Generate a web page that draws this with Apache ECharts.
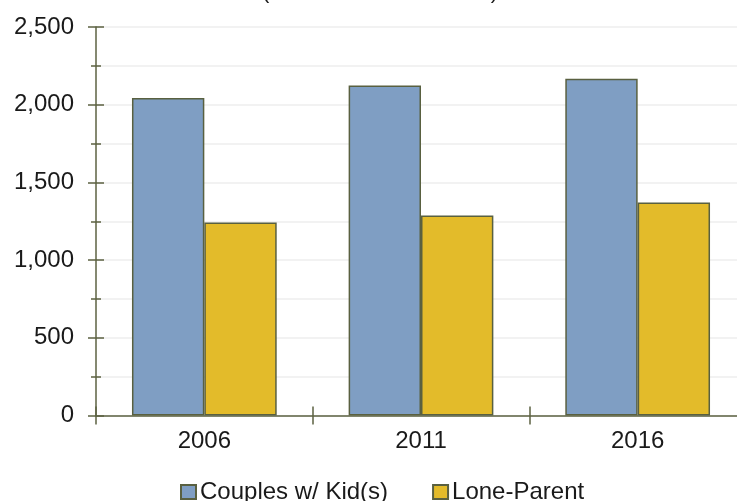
<!DOCTYPE html>
<html>
<head>
<meta charset="utf-8">
<script src="https://cdn.jsdelivr.net/npm/echarts@6/dist/echarts.min.js"></script>
<style>
  html, body { margin: 0; padding: 0; background: #ffffff; overflow: hidden; }
  #chart { width: 746px; height: 501px; }
</style>
</head>
<body>
<div id="chart"></div>
<script>
// Census years and family counts (thousands)
const years = ['2006', '2011', '2016'];
const couplesWithKids = [2043, 2124, 2167];
const loneParent = [1242, 1287, 1370];
const seriesNames = ['Couples w/ Kid(s)', 'Lone-Parent'];
const titleText = '(Thousands of Families)';

const FONT = '"Liberation Sans", Arial, Helvetica, sans-serif';
const AXIS = '#5c6242';
const BORDER = '#596040';
const TEXT = '#1a1a1a';

const chart = echarts.init(document.getElementById('chart'), null, { renderer: 'canvas' });

const valueAxisBase = {
  type: 'value',
  position: 'left',
  min: 0,
  max: 2500,
  interval: 500
};

chart.setOption({
  backgroundColor: '#ffffff',
  animation: false,
  title: {
    text: titleText,
    left: 380,
    textAlign: 'center',
    top: -19,
    padding: 0,
    textStyle: { fontFamily: FONT, fontSize: 22, fontWeight: 'normal', color: TEXT }
  },
  legend: {
    data: seriesNames,
    icon: 'rect',
    left: 180,
    top: 480,
    padding: 0,
    itemWidth: 15,
    itemHeight: 14,
    itemGap: 44,
    textStyle: { fontFamily: FONT, fontSize: 24, color: TEXT, padding: [0, 0, 0, -1] }
  },
  grid: { left: 96, right: 0, top: 27, bottom: 85.5 },
  xAxis: [
    {
      type: 'category',
      position: 'bottom',
      data: years,
      axisLine: { lineStyle: { color: AXIS, width: 1.5 } },
      axisTick: { show: true, length: 9, lineStyle: { color: AXIS, width: 1.5 } },
      axisLabel: { margin: 14, fontFamily: FONT, fontSize: 24, color: TEXT },
      splitLine: { show: false }
    },
    {
      type: 'category',
      position: 'bottom',
      data: years,
      axisLine: { show: false },
      axisTick: { show: true, inside: true, length: 9, lineStyle: { color: AXIS, width: 1.5 } },
      axisLabel: { show: false },
      splitLine: { show: false }
    }
  ],
  yAxis: [
    Object.assign({}, valueAxisBase, {
      axisLine: { show: true, lineStyle: { color: AXIS, width: 1.5 } },
      axisTick: { show: true, length: 8, lineStyle: { color: AXIS, width: 1.5 } },
      minorTick: { show: true, splitNumber: 2, length: 5, lineStyle: { color: AXIS, width: 1.5 } },
      axisLabel: {
        margin: 22,
        fontFamily: FONT,
        fontSize: 24,
        color: TEXT,
        formatter: v => v.toLocaleString('en-US')
      },
      splitLine: { show: true, lineStyle: { color: '#eeeeee', width: 1.5 } },
      minorSplitLine: { show: true, lineStyle: { color: '#eeeeee', width: 1.5 } }
    }),
    Object.assign({}, valueAxisBase, {
      axisLine: { show: false },
      axisTick: { show: true, inside: true, length: 8, lineStyle: { color: AXIS, width: 1.5 } },
      minorTick: { show: true, splitNumber: 2, length: 5, lineStyle: { color: AXIS, width: 1.5 } },
      axisLabel: { show: false },
      splitLine: { show: false },
      minorSplitLine: { show: false }
    })
  ],
  series: [
    {
      name: seriesNames[0],
      type: 'bar',
      xAxisIndex: 0,
      yAxisIndex: 0,
      data: couplesWithKids,
      barWidth: '33.4%',
      barGap: '0%',
      itemStyle: { color: '#7f9ec3', borderColor: BORDER, borderWidth: 1.5 }
    },
    {
      name: seriesNames[1],
      type: 'bar',
      xAxisIndex: 0,
      yAxisIndex: 0,
      data: loneParent,
      barWidth: '33.4%',
      barGap: '0%',
      itemStyle: { color: '#e3bb2a', borderColor: BORDER, borderWidth: 1.5 }
    }
  ]
});
</script>
</body>
</html>
